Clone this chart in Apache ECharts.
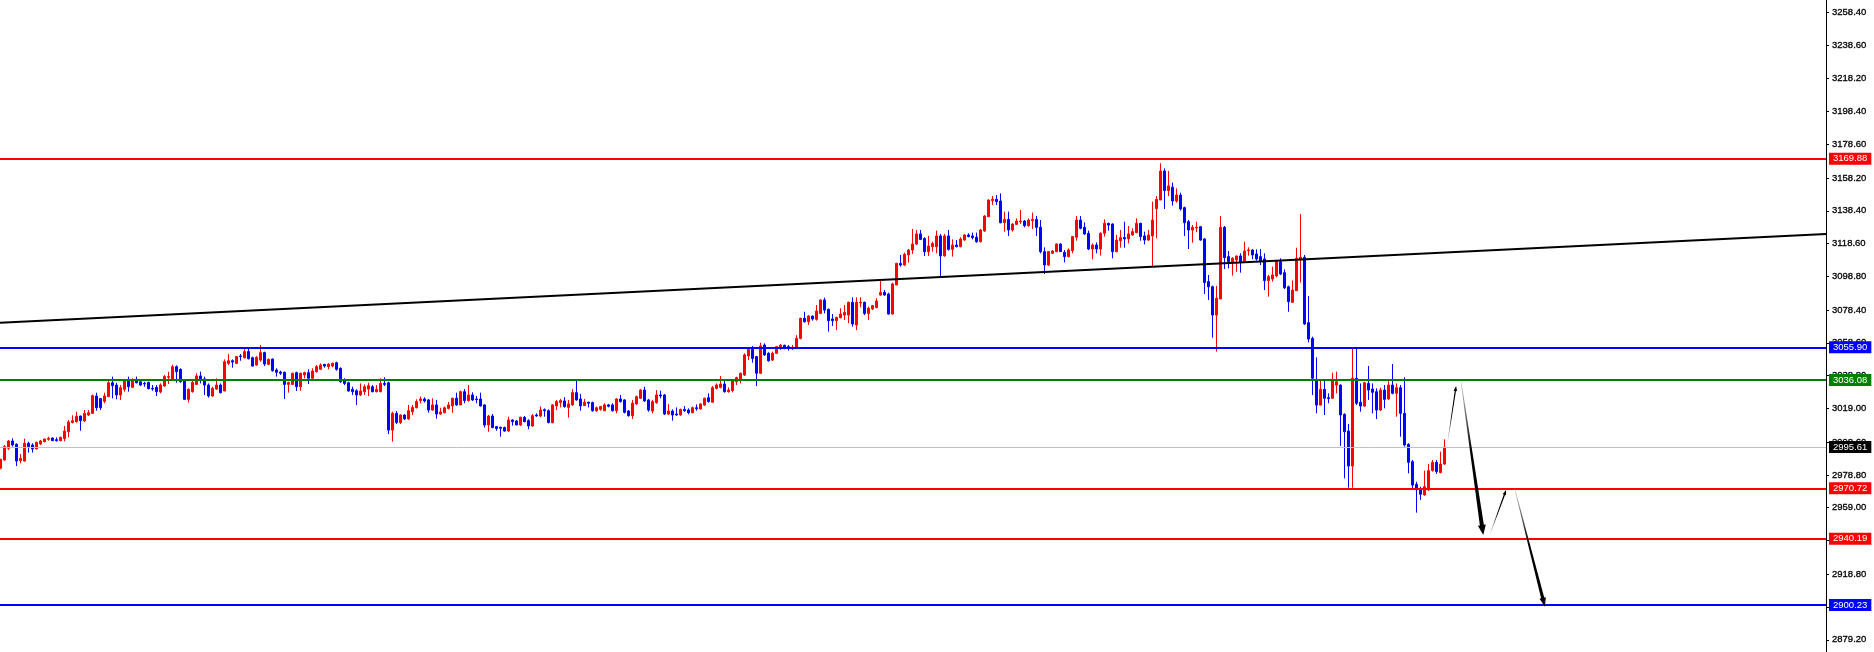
<!DOCTYPE html>
<html>
<head>
<meta charset="utf-8">
<script src="https://cdn.jsdelivr.net/npm/echarts@6/dist/echarts.min.js"></script>
<style>
html,body{margin:0;padding:0;background:#ffffff;}
#chart{width:1874px;height:652px;}
</style>
</head>
<body>
<div id="chart"></div>
<script>
// ---- candle values (bar index = array position) ----
const opens = [
2982.8,2987.8,2994.9,2999.3,2997.3,2987.4,2987.2,2997.9,2996.9,2994.5,
2997.5,2998.9,3000.3,3001.1,3000.1,2999.5,3000.7,3004.9,3010.4,3011.0,
3014.4,3011.4,3015.0,3016.0,3026.5,3024.9,3023.3,3026.1,3034.5,3033.1,
3027.1,3030.5,3035.8,3031.7,3036.2,3035.1,3034.1,3034.7,3031.1,3031.7,
3028.9,3032.5,3037.8,3036.2,3044.2,3042.6,3036.2,3024.5,3029.1,3033.5,
3038.6,3036.8,3033.1,3026.5,3030.7,3033.1,3029.5,3046.2,3047.8,3046.2,
3050.7,3049.6,3053.3,3049.6,3045.2,3048.2,3052.7,3045.6,3048.8,3042.2,
3041.0,3040.8,3033.5,3033.5,3040.6,3032.1,3039.2,3040.6,3037.2,3041.2,
3042.6,3045.6,3044.2,3044.6,3046.6,3043.2,3035.8,3034.5,3030.5,3029.7,
3027.1,3029.1,3030.7,3032.1,3029.1,3029.1,3034.1,3034.5,3005.9,3016.0,
3010.4,3015.0,3012.6,3017.0,3019.4,3023.7,3024.7,3024.1,3018.0,3021.1,
3015.6,3016.4,3019.0,3020.5,3025.1,3021.1,3029.1,3023.7,3027.1,3024.7,
3024.7,3021.1,3009.0,3014.4,3008.0,3007.6,3007.4,3005.3,3012.0,3011.4,
3009.0,3013.6,3011.6,3008.4,3015.0,3014.4,3018.2,3017.6,3010.4,3020.5,
3022.5,3023.5,3019.6,3021.1,3028.5,3024.7,3020.7,3022.7,3022.5,3017.6,
3018.4,3017.6,3021.1,3021.1,3017.6,3024.7,3024.1,3017.4,3014.6,3021.7,
3025.1,3030.1,3024.1,3017.4,3022.5,3027.1,3027.1,3015.6,3017.4,3015.6,
3015.0,3018.4,3018.0,3016.4,3019.4,3018.6,3021.0,3025.5,3022.7,3031.1,
3031.7,3033.7,3029.1,3029.7,3035.1,3036.8,3039.2,3050.7,3054.7,3050.3,
3040.2,3057.3,3052.3,3048.2,3052.3,3055.3,3057.1,3056.3,3054.9,3055.3,
3061.3,3073.4,3071.4,3074.8,3072.8,3076.4,3084.5,3078.9,3073.0,3072.0,
3073.8,3075.4,3075.4,3083.1,3069.4,3082.7,3083.1,3076.4,3079.1,3079.9,
3087.5,3089.1,3088.1,3076.0,3093.6,3106.6,3105.6,3111.7,3114.7,3118.3,
3124.4,3121.7,3113.7,3116.7,3116.7,3123.2,3111.1,3123.2,3115.1,3117.7,
3116.7,3120.7,3123.8,3123.2,3122.4,3119.7,3126.2,3134.8,3144.5,3145.3,
3144.3,3131.2,3133.2,3126.8,3130.2,3131.8,3132.2,3129.4,3132.4,3133.2,
3128.4,3113.7,3105.6,3112.7,3113.7,3118.3,3113.3,3110.7,3114.3,3122.4,
3132.8,3128.4,3124.8,3115.3,3117.7,3115.3,3124.8,3130.8,3130.4,3113.7,
3120.3,3122.2,3121.4,3123.8,3125.2,3130.8,3123.2,3120.7,3123.2,3139.7,
3144.9,3162.4,3150.6,3152.6,3144.3,3147.9,3140.3,3131.8,3126.8,3128.0,
3128.8,3121.4,3095.6,3092.5,3075.4,3085.1,3128.4,3110.7,3107.6,3108.7,
3111.1,3107.2,3114.3,3114.7,3112.3,3110.7,3109.3,3096.2,3097.2,3099.0,
3107.6,3101.0,3092.5,3083.1,3090.1,3109.3,3110.3,3070.8,3061.3,3036.2,
3021.0,3030.5,3025.5,3025.1,3033.1,3033.1,3015.4,3005.3,2984.2,3037.2,
3022.7,3020.4,3034.1,3030.7,3029.1,3018.0,3030.1,3024.7,3033.1,3028.1,
3031.5,3016.0,2997.3,2986.8,2973.1,2970.1,2966.7,2969.7,2981.4,2986.4,
2980.2,2985.4
];
const highs = [
2988.6,2996.9,2999.9,3000.9,2997.9,2991.4,3000.7,2998.9,2997.9,2998.9,
2999.9,3000.7,3001.9,3001.5,3001.5,3001.9,3008.4,3012.0,3014.8,3017.0,
3014.6,3018.0,3018.0,3027.3,3028.5,3025.3,3028.5,3036.2,3038.2,3034.5,
3033.1,3036.6,3038.2,3037.2,3038.2,3036.2,3035.1,3035.1,3033.1,3033.1,
3034.1,3039.2,3041.2,3045.4,3045.0,3043.2,3036.6,3031.1,3036.2,3040.2,
3041.2,3038.2,3034.1,3032.1,3037.2,3034.1,3048.6,3051.9,3048.6,3050.7,
3051.9,3054.9,3054.9,3050.3,3050.7,3057.3,3053.3,3049.2,3049.2,3043.2,
3041.8,3041.2,3035.1,3040.6,3041.2,3040.6,3041.2,3042.6,3043.2,3045.2,
3046.2,3045.8,3046.2,3046.6,3047.2,3043.8,3037.2,3035.1,3032.1,3030.5,
3034.1,3033.5,3034.5,3033.1,3033.1,3037.2,3037.8,3035.1,3017.0,3017.4,
3015.4,3015.4,3021.1,3021.1,3024.5,3026.1,3025.7,3024.7,3025.1,3024.1,
3019.4,3020.1,3022.9,3025.5,3028.5,3029.7,3030.7,3033.1,3028.7,3026.5,
3028.5,3021.5,3015.0,3015.6,3008.4,3008.0,3008.0,3014.0,3012.4,3012.0,
3014.0,3014.4,3012.4,3015.6,3016.0,3020.1,3019.0,3018.4,3021.5,3024.1,
3024.7,3025.7,3024.1,3030.7,3035.8,3027.7,3024.7,3023.1,3023.1,3020.1,
3020.5,3022.1,3021.7,3022.1,3025.1,3027.1,3024.5,3018.0,3024.1,3026.7,
3030.7,3032.1,3024.7,3024.1,3030.1,3029.7,3027.7,3021.7,3018.4,3019.6,
3018.8,3020.4,3019.0,3020.1,3021.4,3022.1,3025.5,3028.1,3032.5,3034.1,
3038.6,3035.7,3031.7,3036.2,3038.2,3040.6,3052.3,3055.3,3056.7,3050.7,
3058.7,3058.3,3052.9,3053.3,3056.7,3057.7,3057.5,3057.3,3057.3,3063.3,
3073.8,3077.4,3075.4,3075.0,3081.5,3084.9,3085.9,3079.3,3076.0,3074.4,
3079.5,3081.5,3083.5,3086.1,3086.1,3086.1,3083.5,3080.5,3081.5,3085.5,
3096.2,3090.5,3088.9,3095.0,3107.0,3111.7,3113.1,3115.3,3127.4,3126.8,
3126.8,3122.4,3123.2,3119.7,3126.4,3124.4,3124.4,3126.8,3121.1,3120.7,
3122.4,3124.2,3124.8,3125.2,3125.2,3127.4,3135.8,3145.3,3147.3,3147.9,
3148.9,3137.9,3137.9,3130.8,3133.8,3138.9,3132.8,3133.8,3137.3,3135.2,
3132.8,3116.3,3114.1,3114.7,3118.7,3118.7,3114.7,3115.7,3123.2,3135.2,
3135.2,3131.4,3126.4,3118.7,3119.3,3125.4,3133.2,3131.2,3130.8,3123.8,
3126.8,3131.8,3129.2,3127.8,3133.8,3131.2,3125.8,3126.8,3143.9,3147.3,
3167.1,3164.0,3162.4,3155.4,3151.9,3149.3,3140.9,3132.8,3129.8,3131.8,
3129.2,3121.8,3099.6,3093.2,3093.0,3135.2,3129.2,3114.1,3110.3,3111.3,
3112.7,3119.7,3116.3,3115.3,3115.1,3115.3,3112.7,3099.6,3104.6,3108.1,
3109.7,3103.0,3093.2,3096.2,3116.1,3136.4,3111.7,3086.9,3062.3,3049.8,
3036.2,3036.2,3028.1,3040.6,3041.2,3033.5,3016.0,3009.6,3054.9,3055.3,
3034.1,3035.1,3044.6,3034.1,3031.1,3031.5,3033.1,3035.6,3045.8,3034.1,
3033.1,3037.8,2997.9,2987.8,2974.7,2971.7,2981.4,2985.4,2987.8,2987.8,
2992.9,3000.3
];
const lows = [
2982.2,2987.4,2993.9,2995.9,2984.2,2985.8,2986.8,2992.3,2992.3,2994.3,
2996.9,2998.5,2999.5,2999.3,2998.9,2999.1,2999.1,3001.5,3010.0,3010.4,
3005.5,3010.8,3014.4,3015.6,3017.6,3018.0,3022.1,3026.1,3025.1,3024.5,
3024.1,3029.1,3029.1,3031.3,3034.1,3032.5,3032.1,3030.5,3029.7,3026.5,
3028.1,3032.1,3033.7,3036.2,3034.5,3034.5,3024.1,3022.5,3028.5,3033.1,
3034.1,3027.1,3025.5,3026.1,3030.1,3028.1,3029.5,3045.2,3043.6,3045.8,
3047.8,3049.2,3048.6,3044.2,3044.8,3047.2,3044.6,3045.2,3041.2,3038.2,
3039.2,3024.7,3028.5,3033.1,3029.5,3029.7,3037.2,3033.7,3036.6,3040.6,
3042.2,3043.6,3042.6,3043.8,3041.8,3034.5,3033.1,3029.1,3027.1,3021.0,
3026.5,3027.1,3026.5,3028.7,3028.7,3028.7,3032.5,3003.5,2998.9,3009.6,
3009.6,3012.0,3012.0,3015.0,3019.0,3022.1,3022.5,3016.4,3017.6,3012.8,
3015.2,3016.0,3018.4,3016.4,3020.5,3021.1,3022.1,3023.1,3023.5,3022.1,
3020.1,3007.4,3004.9,3007.0,3005.5,3001.9,3004.9,3004.9,3008.6,3008.8,
3008.4,3010.6,3006.4,3008.0,3014.0,3013.6,3014.0,3010.0,3010.0,3018.0,
3019.6,3019.4,3013.4,3020.5,3023.7,3017.6,3020.5,3019.6,3017.0,3017.0,
3017.6,3017.4,3019.6,3017.0,3016.0,3022.5,3016.0,3014.0,3012.6,3021.0,
3024.7,3022.9,3017.0,3016.0,3021.7,3025.1,3015.0,3015.0,3011.6,3014.6,
3014.6,3017.0,3015.4,3016.0,3017.6,3018.4,3020.6,3022.5,3022.5,3030.5,
3031.1,3028.5,3028.5,3028.7,3033.1,3034.1,3038.6,3048.2,3046.6,3032.5,
3039.8,3050.7,3047.2,3047.6,3051.9,3054.3,3054.7,3053.9,3054.3,3054.9,
3060.7,3070.8,3069.4,3072.0,3072.0,3076.0,3076.4,3065.4,3068.8,3066.3,
3073.4,3072.4,3070.4,3068.4,3066.3,3080.1,3075.4,3072.4,3078.4,3079.5,
3087.1,3087.1,3075.6,3075.8,3093.4,3104.6,3105.0,3107.0,3112.3,3117.7,
3120.7,3111.1,3111.1,3113.7,3112.7,3098.6,3110.7,3114.3,3110.7,3116.3,
3116.3,3120.3,3122.4,3121.1,3119.1,3119.3,3125.8,3134.8,3141.9,3141.9,
3130.8,3125.8,3123.2,3125.8,3129.8,3130.4,3128.4,3128.8,3127.4,3123.2,
3112.7,3100.2,3105.0,3112.3,3113.3,3113.5,3107.2,3110.3,3112.7,3120.3,
3127.2,3123.8,3114.7,3109.1,3112.7,3111.3,3122.8,3126.4,3109.7,3113.3,
3116.1,3116.1,3118.7,3123.2,3124.8,3120.3,3118.1,3120.3,3105.0,3121.8,
3144.9,3139.5,3147.3,3141.5,3143.3,3138.5,3123.2,3115.3,3119.1,3125.4,
3120.3,3088.1,3084.5,3061.7,3053.3,3085.1,3103.2,3103.6,3099.2,3101.6,
3101.0,3107.0,3111.3,3109.1,3108.3,3105.6,3090.5,3086.5,3095.6,3098.2,
3099.6,3091.1,3077.4,3082.9,3090.1,3095.0,3069.4,3058.9,3027.1,3016.0,
3020.8,3015.0,3022.1,3024.7,3028.1,2996.3,2976.7,2971.1,2971.1,3021.0,
3017.0,3020.0,3024.1,3016.0,3012.6,3017.6,3019.0,3024.1,3027.5,3014.0,
3001.9,2995.9,2979.8,2970.3,2956.0,2963.7,2966.3,2969.3,2980.8,2979.4,
2979.8,2984.8
];
const closes = [
2988.2,2995.9,2999.3,2996.9,2987.2,2988.8,2997.9,2995.9,2994.5,2998.5,
2999.3,3000.5,3000.9,2999.5,2999.5,3001.5,3005.3,3010.8,3011.6,3014.2,
3011.6,3016.0,3016.4,3026.7,3019.4,3019.4,3026.5,3034.5,3032.7,3027.1,
3031.5,3035.8,3032.1,3036.2,3034.5,3033.1,3033.7,3030.9,3030.7,3029.1,
3033.1,3038.2,3038.2,3044.2,3041.2,3035.1,3024.5,3030.5,3034.7,3038.6,
3036.2,3033.1,3026.5,3031.1,3033.1,3028.5,3047.2,3047.8,3047.0,3050.3,
3050.3,3053.3,3049.0,3044.6,3049.8,3052.7,3045.8,3048.6,3041.8,3040.8,
3040.2,3033.5,3034.7,3040.2,3032.1,3040.2,3040.6,3037.2,3041.6,3044.2,
3045.2,3044.6,3045.8,3046.2,3042.6,3035.1,3034.1,3029.5,3029.1,3027.1,
3029.5,3032.1,3032.7,3029.1,3030.5,3034.1,3033.5,3005.9,3016.0,3010.4,
3015.0,3012.6,3017.6,3019.6,3023.1,3024.7,3023.5,3018.0,3021.1,3015.6,
3016.8,3019.4,3021.1,3025.1,3021.1,3029.1,3023.7,3027.1,3024.1,3024.3,
3020.5,3009.0,3014.4,3007.4,3006.8,3007.0,3005.3,3012.0,3011.0,3009.0,
3013.6,3011.0,3008.4,3014.6,3014.4,3018.0,3017.6,3010.4,3021.1,3023.1,
3023.7,3020.1,3021.7,3028.5,3024.1,3020.5,3022.7,3022.1,3017.6,3019.4,
3020.1,3021.1,3020.3,3017.6,3024.7,3023.1,3016.6,3014.6,3022.1,3026.1,
3030.1,3023.5,3018.0,3023.1,3027.1,3026.5,3015.6,3017.4,3015.0,3015.0,
3018.4,3017.6,3016.4,3019.4,3018.8,3021.7,3025.1,3023.1,3031.5,3033.1,
3033.7,3029.1,3030.1,3035.7,3037.6,3040.2,3051.3,3054.7,3049.2,3040.2,
3056.7,3051.3,3047.8,3052.3,3056.3,3057.3,3055.3,3055.3,3055.9,3061.3,
3073.4,3071.4,3074.8,3073.0,3077.8,3084.5,3078.4,3072.0,3072.0,3074.0,
3076.0,3077.0,3083.1,3070.0,3083.1,3083.1,3076.4,3079.5,3081.1,3083.9,
3089.1,3087.5,3076.0,3094.2,3106.6,3105.6,3112.1,3114.7,3118.3,3124.4,
3121.1,3113.7,3117.1,3118.7,3123.2,3111.1,3123.2,3115.1,3117.7,3116.7,
3121.3,3123.8,3122.8,3122.2,3119.7,3126.8,3135.2,3144.9,3145.3,3143.9,
3131.2,3133.2,3126.8,3130.4,3132.2,3132.2,3129.4,3132.8,3133.2,3128.4,
3113.7,3105.6,3113.7,3114.1,3118.3,3113.7,3110.7,3114.7,3122.8,3132.8,
3127.8,3124.4,3115.3,3117.7,3115.3,3124.8,3130.8,3129.8,3113.7,3120.7,
3122.2,3121.4,3124.4,3125.8,3130.8,3122.8,3120.7,3123.8,3132.8,3145.3,
3162.4,3150.6,3153.4,3144.3,3147.9,3139.5,3131.2,3126.8,3128.4,3128.4,
3120.7,3095.0,3092.5,3075.4,3085.5,3128.4,3110.1,3107.6,3109.7,3111.1,
3107.2,3114.1,3114.7,3111.7,3109.3,3108.3,3096.2,3098.6,3099.6,3107.6,
3100.2,3091.9,3083.5,3090.5,3109.7,3110.3,3070.0,3060.9,3037.2,3021.0,
3030.5,3025.1,3024.9,3036.2,3035.1,3015.0,3004.9,2984.2,3037.2,3022.1,
3020.4,3034.5,3030.1,3028.7,3018.0,3030.1,3024.5,3033.1,3028.1,3031.5,
3016.0,2996.9,2986.4,2972.7,2969.7,2967.1,2971.7,2981.4,2986.4,2980.8,
2985.4,2995.6
];

// ---- horizontal price levels ----
const levelPrices = [3169.88, 3055.90, 3036.08, 2995.61, 2970.72, 2940.19, 2900.23];

// ---- price-axis tick labels ----
const axisTicks = [3258.40, 3238.60, 3218.20, 3198.40, 3178.60, 3158.20, 3138.40, 3118.60,
  3098.80, 3078.40, 3058.60, 3038.80, 3019.00, 2998.60, 2978.80, 2959.00, 2939.20,
  2918.80, 2899.00, 2879.20];

// ---- trend line: [bar index, price] ----
const trendLine = [[-0.125, 3070.7], [456.375, 3124.3]];

// ---- projection arrows: [fromBar, fromPrice, toBar, toPrice] ----
const arrows = [
  [361.8, 2998.9, 363.9, 3032.5],
  [365.1, 3035.7, 370.7, 2942.5],
  [372.4, 2943.1, 376.4, 2969.7],
  [378.6, 2970.1, 386.1, 2899.2]
];

// ---- styles (kept apart from data) ----
const levelStyles = [
  {line: '#FF0000', box: '#FF0000', width: 2},
  {line: '#0000FF', box: '#0000FF', width: 2},
  {line: '#008000', box: '#008000', width: 2},
  {line: '#C0C0C0', box: '#000000', width: 1},
  {line: '#FF0000', box: '#FF0000', width: 2},
  {line: '#FF0000', box: '#FF0000', width: 2},
  {line: '#0000FF', box: '#0000FF', width: 2}
];
const arrowStyles = [
  {w0: 0.4, w1: 1.3, headW: 3.5, headLen: 5, c0: '#dcdcdc'},
  {w0: 0.6, w1: 4.0, headW: 8, headLen: 10, c0: '#d0d0d0'},
  {w0: 0.4, w1: 1.4, headW: 3.5, headLen: 5, c0: '#dcdcdc'},
  {w0: 0.6, w1: 3.2, headW: 6.5, headLen: 9, c0: '#d0d0d0'}
];
const FONT = '"Liberation Sans", Arial, sans-serif';

const candleData = opens.map((o, i) => [i, o, closes[i], lows[i], highs[i]]);

function renderArrow(params, api) {
  const s = arrowStyles[params.dataIndex];
  const a = api.coord([api.value(0), api.value(1)]);
  const b = api.coord([api.value(2), api.value(3)]);
  const dx = b[0] - a[0], dy = b[1] - a[1];
  const len = Math.sqrt(dx * dx + dy * dy) || 1;
  const ux = dx / len, uy = dy / len, nx = -uy, ny = ux;
  const bx = b[0] - ux * s.headLen, by = b[1] - uy * s.headLen;
  const pts = [
    [a[0] + nx * s.w0 / 2, a[1] + ny * s.w0 / 2],
    [bx + nx * s.w1 / 2, by + ny * s.w1 / 2],
    [bx + nx * s.headW / 2, by + ny * s.headW / 2],
    [b[0], b[1]],
    [bx - nx * s.headW / 2, by - ny * s.headW / 2],
    [bx - nx * s.w1 / 2, by - ny * s.w1 / 2],
    [a[0] - nx * s.w0 / 2, a[1] - ny * s.w0 / 2]
  ];
  return {
    type: 'polygon',
    shape: {points: pts},
    style: {
      fill: new echarts.graphic.LinearGradient(a[0], a[1], b[0], b[1], [
        {offset: 0, color: s.c0}, {offset: 0.45, color: '#000000'}, {offset: 1, color: '#000000'}
      ], true)
    }
  };
}

const chart = echarts.init(document.getElementById('chart'), null, {renderer: 'canvas'});
chart.setOption({
  animation: false,
  backgroundColor: '#ffffff',
  grid: {show: false, left: 0, right: 48, top: 0, bottom: 0, containLabel: false},
  xAxis: {
    type: 'value', min: -0.125, max: 456.375, show: false,
    axisLine: {show: false}, axisTick: {show: false}, axisLabel: {show: false},
    splitLine: {show: false}, minorTick: {show: false}, minorSplitLine: {show: false}
  },
  yAxis: {
    type: 'value', position: 'right', min: 2871.81, max: 3265.75,
    axisLine: {show: true, onZero: false, lineStyle: {color: '#000000', width: 1}},
    axisTick: {show: true, inside: false, length: 3, customValues: axisTicks, lineStyle: {color: '#000000', width: 1}},
    axisLabel: {show: true, customValues: axisTicks, margin: 6, color: '#000000', fontSize: 9.5,
      fontFamily: FONT, textBorderColor: '#000000', textBorderWidth: 0.3,
      formatter: v => Number(v).toFixed(2)},
    splitLine: {show: false},
    splitArea: {show: false},
    minorTick: {show: false},
    minorSplitLine: {show: false}
  },
  series: [
    {
      type: 'candlestick', data: candleData, barWidth: 2, z: 2, silent: true,
      itemStyle: {color: '#FF0000', color0: '#0000FF', borderColor: '#FF0000', borderColor0: '#0000FF', borderWidth: 1}
    },
    {
      type: 'line', data: trendLine, symbol: 'none', z: 4, silent: true,
      lineStyle: {color: '#000000', width: 2}
    },
    {
      type: 'line', data: [], z: 5, silent: true, clip: false,
      markLine: {
        silent: true, symbol: ['none', 'none'], animation: false,
        data: levelPrices.map((p, i) => ({
          yAxis: p,
          lineStyle: {color: levelStyles[i].line, width: levelStyles[i].width, type: 'solid'},
          label: {
            show: true, position: 'end', distance: 3, formatter: p.toFixed(2),
            color: '#ffffff', backgroundColor: levelStyles[i].box, padding: [1, 4, 1, 4],
            fontSize: 9.5, fontFamily: FONT
          },
          emphasis: {disabled: true}
        }))
      }
    },
    {
      type: 'custom', data: arrows, renderItem: renderArrow, z: 6, silent: true, clip: false,
      encode: {x: [0, 2], y: [1, 3]}
    }
  ]
});
</script>
</body>
</html>
